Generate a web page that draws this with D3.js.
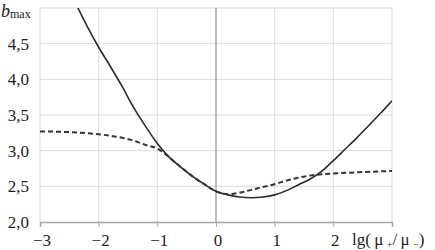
<!DOCTYPE html>
<html>
<head>
<meta charset="utf-8">
<script src="https://cdn.jsdelivr.net/npm/d3@7"></script>
<style>
  html, body { margin: 0; padding: 0; background: #fff; }
  svg text { font-family: "Liberation Serif", "DejaVu Serif", serif; fill: #222; }
</style>
</head>
<body>
<div id="chart"></div>
<script>
// Chart size (matches the browser window)
const width = 435;
const height = 250;

// Axis tick values and labels
const xTicks = [-3, -2, -1, 0, 1, 2];
const xTickLabels = ["\u22123", "\u22122", "\u22121", "0", "1", "2"];
const yTicks = [2.0, 2.5, 3.0, 3.5, 4.0, 4.5];
const yTickLabels = ["2,0", "2,5", "3,0", "3,5", "4,0", "4,5"];

// Solid curve
const solidX = [-2.4, -2.2, -2.0, -1.8, -1.6, -1.4, -1.2, -1.0, -0.8, -0.6, -0.4, -0.2, 0, 0.2, 0.4, 0.6, 0.8, 1.0, 1.2, 1.4, 1.6, 1.8, 2.0, 2.2, 2.4, 2.6, 2.8, 3.0];
const solidY = [5.08, 4.75, 4.45, 4.18, 3.90, 3.60, 3.34, 3.10, 2.91, 2.77, 2.64, 2.53, 2.43, 2.38, 2.35, 2.34, 2.35, 2.38, 2.44, 2.52, 2.60, 2.71, 2.86, 3.02, 3.18, 3.35, 3.52, 3.70];

// Dashed curve
const dashX = [-3, -2.5, -2.0, -1.6, -1.4, -1.2, -1.0, -0.8, -0.6, -0.4, -0.2, 0, 0.2, 0.4, 0.6, 0.8, 1.0, 1.2, 1.4, 1.6, 1.8, 2.0, 2.5, 3.0];
const dashY = [3.27, 3.26, 3.23, 3.18, 3.14, 3.08, 3.03, 2.91, 2.77, 2.64, 2.53, 2.43, 2.39, 2.41, 2.45, 2.49, 2.53, 2.58, 2.62, 2.65, 2.67, 2.68, 2.70, 2.715];

// Plot area
const plot = { left: 40, right: 392, top: 8, bottom: 222 };

const x = d3.scaleLinear().domain([-3, 3]).range([plot.left, plot.right]);
const y = d3.scaleLinear().domain([2, 5]).range([plot.bottom, plot.top]);

const svg = d3.select("#chart").append("svg")
    .attr("width", width)
    .attr("height", height)
    .attr("font-family", "'Liberation Serif', 'DejaVu Serif', serif");

svg.append("clipPath").attr("id", "clip")
  .append("rect")
    .attr("x", plot.left).attr("y", plot.top)
    .attr("width", plot.right - plot.left)
    .attr("height", plot.bottom - plot.top);

// Horizontal gridlines
svg.append("g")
  .selectAll("line")
  .data([2.5, 3.0, 3.5, 4.0, 4.5, 5.0])
  .join("line")
    .attr("x1", plot.left).attr("x2", plot.right)
    .attr("y1", d => y(d)).attr("y2", d => y(d))
    .attr("stroke", "#d9d9d9").attr("stroke-width", 1);

// Vertical gridlines
svg.append("g")
  .selectAll("line")
  .data([-3, -2, -1, 1, 2, 3])
  .join("line")
    .attr("x1", d => x(d)).attr("x2", d => x(d))
    .attr("y1", plot.top).attr("y2", plot.bottom)
    .attr("stroke", "#d9d9d9").attr("stroke-width", 1);

// Zero line
svg.append("line")
    .attr("x1", x(0)).attr("x2", x(0))
    .attr("y1", plot.top).attr("y2", plot.bottom)
    .attr("stroke", "#a6a6a6").attr("stroke-width", 1.5);

// Bottom axis
const xAxis = d3.axisBottom(x)
    .tickValues([-3, -2, -1, 0, 1, 2, 3])
    .tickSize(5)
    .tickFormat("");
const gx = svg.append("g")
    .attr("transform", `translate(0,${plot.bottom})`)
    .call(xAxis);
gx.select(".domain").attr("stroke", "#a6a6a6").attr("stroke-width", 1.5);
gx.selectAll(".tick line").attr("stroke", "#a6a6a6");

// X tick labels
svg.append("g")
  .selectAll("text")
  .data(xTicks)
  .join("text")
    .attr("x", d => x(d) + 2)
    .attr("y", 246)
    .attr("text-anchor", "middle")
    .attr("font-size", 17)
    .text((d, i) => xTickLabels[i]);

// Y tick labels
svg.append("g")
  .selectAll("text")
  .data(yTicks)
  .join("text")
    .attr("x", 29)
    .attr("y", d => y(d))
    .attr("dy", "0.35em")
    .attr("text-anchor", "end")
    .attr("font-size", 17)
    .text((d, i) => yTickLabels[i]);

// Curves
const line = d3.line()
    .x(d => x(d[0]))
    .y(d => y(d[1]))
    .curve(d3.curveMonotoneX);

svg.append("path")
    .datum(solidX.map((v, i) => [v, solidY[i]]))
    .attr("clip-path", "url(#clip)")
    .attr("fill", "none")
    .attr("stroke", "#2b2b2b")
    .attr("stroke-width", 1.6)
    .attr("d", line);

svg.append("path")
    .datum(dashX.map((v, i) => [v, dashY[i]]))
    .attr("clip-path", "url(#clip)")
    .attr("fill", "none")
    .attr("stroke", "#333")
    .attr("stroke-width", 2)
    .attr("stroke-dasharray", "5,3")
    .attr("d", line);

// Y axis title: b_max
const yTitle = svg.append("text").attr("x", 1).attr("y", 17).attr("font-size", 18);
yTitle.append("tspan").attr("font-style", "italic").text("b");
yTitle.append("tspan").attr("font-size", 12).attr("dy", 1).text("max");

// X axis title: lg(μ+/μ−)
const xTitle = svg.append("text").attr("x", 352).attr("y", 245).attr("font-size", 17);
xTitle.append("tspan").text("lg(\u2009\u03bc\u2009");
xTitle.append("tspan").attr("font-size", 10).attr("dy", 2.5).text("+");
xTitle.append("tspan").attr("dy", -2.5).text("/\u2009\u03bc\u2009");
xTitle.append("tspan").attr("font-size", 10).attr("dy", 2.5).text("\u2212");
xTitle.append("tspan").attr("dy", -2.5).text(")");
</script>
</body>
</html>
